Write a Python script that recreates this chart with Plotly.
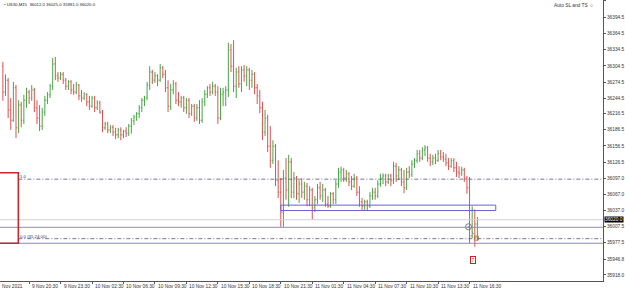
import plotly.graph_objects as go

# ---------------- data (US30, M15) ----------------
opens = [36304,36256,36278,36223,36204,36264,36190,36232,36204,36241,
         36256,36245,36260,36227,36208,36193,36219,36241,36251,36267,
         36308,36286,36282,36289,36278,36267,36275,36260,36256,36269,
         36249,36245,36252,36238,36230,36245,36227,36236,36219,36190,
         36197,36186,36191,36182,36177,36186,36177,36184,36180,36193,
         36203,36210,36216,36227,36241,36245,36269,36293,36278,36286,
         36278,36301,36289,36264,36230,36260,36271,36241,36238,36245,
         36227,36241,36216,36230,36208,36227,36204,36238,36252,36264,
         36256,36267,36256,36208,36252,36256,36260,36334,36304,36267,
         36293,36271,36297,36286,36297,36278,36289,36264,36249,36227,
         36182,36208,36156,36130,36156,36093,36071,36034,36097,36075,
         36127,36071,36097,36068,36086,36071,36082,36057,36075,36042,
         36057,36079,36064,36075,36049,36045,36068,36057,36086,36108,
         36112,36097,36105,36090,36082,36097,36071,36053,36045,36053,
         36045,36064,36071,36064,36086,36097,36101,36090,36101,36093,
         36119,36101,36112,36090,36079,36108,36103,36123,36130,36142,
         36134,36149,36153,36134,36127,36134,36130,36143,36136,36132,
         36125,36119,36129,36116,36108,36105,36112,36097,36079,35990,
         36038,36012]
highs = [36312,36289,36282,36245,36275,36269,36241,36238,36251,36264,
         36260,36269,36264,36241,36232,36227,36249,36256,36271,36319,
         36321,36293,36293,36293,36282,36278,36278,36271,36275,36271,
         36260,36256,36254,36249,36249,36249,36241,36240,36223,36201,
         36201,36195,36195,36190,36190,36191,36186,36191,36197,36208,
         36214,36219,36232,36245,36249,36275,36304,36297,36293,36289,
         36308,36304,36297,36278,36271,36278,36275,36256,36249,36249,
         36245,36245,36234,36234,36234,36241,36245,36260,36267,36271,
         36275,36271,36267,36264,36264,36267,36347,36345,36352,36301,
         36304,36304,36306,36304,36301,36297,36293,36271,36260,36238,
         36223,36214,36193,36167,36160,36130,36097,36112,36134,36140,
         36134,36108,36101,36093,36097,36090,36088,36082,36079,36064,
         36086,36090,36086,36079,36064,36071,36071,36093,36116,36118,
         36116,36112,36108,36101,36105,36101,36082,36060,36057,36057,
         36071,36079,36079,36093,36105,36106,36105,36105,36105,36127,
         36125,36119,36116,36112,36116,36119,36130,36134,36149,36149,
         36154,36158,36156,36142,36140,36142,36149,36149,36145,36142,
         36134,36134,36134,36127,36119,36118,36116,36101,36099,36045,
         36038,36025]
lows = [36240,36249,36208,36186,36201,36171,36180,36191,36197,36227,
        36234,36240,36219,36197,36184,36186,36212,36234,36245,36260,
        36278,36275,36278,36271,36260,36260,36252,36251,36252,36241,
        36238,36241,36230,36223,36227,36219,36223,36216,36182,36186,
        36180,36180,36175,36169,36171,36167,36171,36173,36175,36179,
        36195,36203,36208,36219,36230,36241,36260,36271,36273,36267,
        36275,36282,36256,36219,36223,36252,36234,36230,36227,36219,
        36216,36208,36212,36201,36203,36197,36199,36230,36245,36249,
        36252,36249,36197,36204,36230,36230,36247,36293,36256,36245,
        36264,36256,36275,36267,36260,36264,36252,36234,36217,36167,
        36175,36145,36116,36123,36082,36060,36007,36007,36057,36044,
        36060,36060,36057,36051,36060,36057,36045,36045,36020,36034,
        36049,36057,36053,36044,36042,36042,36049,36049,36079,36090,
        36090,36090,36082,36075,36079,36064,36044,36038,36038,36038,
        36042,36057,36057,36060,36081,36086,36082,36086,36082,36086,
        36090,36093,36082,36069,36075,36097,36099,36116,36125,36127,
        36130,36138,36127,36119,36121,36123,36127,36130,36127,36119,
        36112,36116,36108,36099,36097,36101,36090,36068,35977,35986,
        35970,35981]
closes = [36256,36278,36223,36204,36264,36190,36232,36204,36241,36256,
          36245,36260,36227,36208,36193,36219,36241,36251,36267,36308,
          36286,36282,36289,36278,36267,36275,36260,36256,36269,36249,
          36245,36252,36238,36230,36245,36227,36236,36219,36190,36197,
          36186,36191,36182,36177,36186,36177,36184,36180,36193,36203,
          36210,36216,36227,36241,36245,36269,36293,36278,36286,36278,
          36301,36289,36264,36230,36260,36271,36241,36238,36245,36227,
          36241,36216,36230,36208,36227,36204,36238,36252,36264,36256,
          36267,36256,36208,36252,36256,36260,36334,36304,36267,36293,
          36271,36297,36286,36297,36278,36289,36264,36249,36227,36182,
          36208,36156,36130,36156,36093,36071,36034,36097,36075,36127,
          36071,36097,36068,36086,36071,36082,36057,36075,36042,36057,
          36079,36064,36075,36049,36045,36068,36057,36086,36108,36112,
          36097,36105,36090,36082,36097,36071,36053,36045,36053,36045,
          36064,36071,36064,36086,36097,36101,36090,36101,36093,36119,
          36101,36112,36090,36079,36108,36103,36123,36130,36142,36134,
          36149,36153,36134,36127,36134,36130,36143,36136,36132,36125,
          36119,36129,36116,36108,36105,36112,36097,36079,35990,36038,
          36012,36020]
bars = list(range(len(closes)))

x_label_bars = [10, 22, 34, 46, 58, 70, 82, 94, 106, 118, 130, 142, 154, 166, 178]
x_labels = ["9 Nov 20:30", "9 Nov 23:30", "10 Nov 02:30", "10 Nov 06:30",
            "10 Nov 09:30", "10 Nov 12:30", "10 Nov 15:30", "10 Nov 18:30", "10 Nov 21:30",
            "11 Nov 01:30", "11 Nov 04:30", "11 Nov 07:30", "11 Nov 10:30", "11 Nov 13:30",
            "11 Nov 16:30"]
first_label = "Nov 2021"

y_ticks = [36424.5, 36394.5, 36364.5, 36334.5, 36304.5, 36274.5, 36244.5, 36216.5,
           36186.5, 36156.5, 36126.5, 36097.0, 36067.0, 36037.0, 36007.5, 35977.5,
           35946.8, 35918.0]

last_price = 36020.0
fib_top = 36095.0
fib_bottom = 35985.0
level_a = 36006.0
level_b = 35976.5
zone_top, zone_bottom = 36047.0, 36037.0
zone_start, zone_end = 106.0, 188.0
redbox_top, redbox_bottom = 36107.0, 35976.5
fib_start = 5.9
trade_in = (177.6, 36007.0)
trade_out = (180.6, 35986.0)
marker7 = (179.3, 35946.0)

X_RANGE = [-1.1, 228.9]
Y_RANGE = [35906.7, 36426.3]

GREEN = "#45a845"
RED = "#e05050"
FONT = "Liberation Sans"
FS = 4.8

fig = go.Figure()
fig.add_trace(go.Ohlc(
    x=bars, open=opens, high=highs, low=lows, close=closes,
    increasing=dict(line=dict(color=GREEN, width=1)),
    decreasing=dict(line=dict(color=RED, width=1)),
    tickwidth=0.35, showlegend=False, hoverinfo="skip"))

shapes = []
shapes.append(dict(type="line", xref="paper", x0=0, x1=1, yref="y", y0=last_price, y1=last_price,
                   line=dict(color="#d2d2d2", width=1)))
for lv in (level_a, level_b):
    shapes.append(dict(type="line", xref="paper", x0=0, x1=1, yref="y", y0=lv, y1=lv,
                       line=dict(color="#8c86d6", width=1)))
for lv in (fib_top, fib_bottom):
    shapes.append(dict(type="line", xref="x", x0=fib_start, x1=X_RANGE[1], yref="y", y0=lv, y1=lv,
                       line=dict(color="#50508a", width=0.8, dash="4px,2px,1px,2px")))
shapes.append(dict(type="rect", xref="x", x0=zone_start, x1=zone_end, yref="y",
                   y0=zone_bottom, y1=zone_top, line=dict(color="#6a62cc", width=1)))
shapes.append(dict(type="rect", xref="x", x0=-8, x1=fib_start, yref="y",
                   y0=redbox_bottom, y1=redbox_top, line=dict(color="#c8262a", width=1.6)))
shapes.append(dict(type="line", xref="x", yref="y", x0=trade_in[0], y0=trade_in[1],
                   x1=trade_out[0], y1=trade_out[1], line=dict(color="#888888", width=1, dash="dot")))
fig.update_layout(shapes=shapes)

fig.add_trace(go.Scatter(x=[trade_in[0]], y=[trade_in[1]], mode="markers",
                         marker=dict(symbol="circle-dot", size=6, color="rgba(0,0,0,0)",
                                     line=dict(color="#777777", width=1)),
                         showlegend=False, hoverinfo="skip"))
fig.add_trace(go.Scatter(x=[trade_out[0]], y=[trade_out[1]], mode="markers",
                         marker=dict(symbol="square-open", size=4, color="#c08040"),
                         showlegend=False, hoverinfo="skip"))

ann = []
ann.append(dict(x=0, xref="paper", y=0, yref="paper", yanchor="top", xanchor="left",
                text=first_label, showarrow=False, yshift=-1, xshift=0,
                font=dict(family=FONT, size=FS, color="#333333")))
for b, t in zip(x_label_bars, x_labels):
    ann.append(dict(x=b, xref="x", y=0, yref="paper", yanchor="top", xanchor="left",
                    text=t, showarrow=False, yshift=-1, xshift=1,
                    font=dict(family=FONT, size=FS, color="#333333")))
ann.append(dict(x=0.003, xref="paper", y=1, yref="paper", xanchor="left", yanchor="top",
                text="\u2022 US30,M15  36012.0 36025.0 35981.0 36020.0", showarrow=False,
                yshift=0, font=dict(family=FONT, size=4.3, color="#222222")))
ann.append(dict(x=0.988, xref="paper", y=1, yref="paper", xanchor="right", yanchor="top",
                text="Auto SL and TS \u263a", showarrow=False, yshift=-1,
                font=dict(family=FONT, size=FS, color="#333333")))
ann.append(dict(x=1, xref="paper", y=last_price, yref="y", xanchor="left", yanchor="middle",
                text="36020.0", showarrow=False, bgcolor="#000000", borderpad=0, xshift=1,
                font=dict(family=FONT, size=FS, color="#ffffff")))
ann.append(dict(x=fib_start, xref="x", y=fib_top, yref="y", xanchor="left", yanchor="bottom",
                text="1.0", showarrow=False, xshift=0, yshift=-2,
                font=dict(family=FONT, size=4.3, color="#333366")))
ann.append(dict(x=fib_start, xref="x", y=fib_bottom, yref="y", xanchor="left", yanchor="bottom",
                text="0.0 (35.24.00)", showarrow=False, yshift=-2,
                font=dict(family=FONT, size=4.3, color="#333366")))
ann.append(dict(x=marker7[0], xref="x", y=marker7[1], yref="y", text="7", showarrow=False,
                bordercolor="#d02020", borderwidth=1, borderpad=0.5,
                font=dict(family=FONT, size=FS, color="#d02020")))
fig.update_layout(annotations=ann)

fig.update_layout(
    width=625, height=289,
    margin=dict(l=0, r=20, t=0, b=8),
    paper_bgcolor="white", plot_bgcolor="white",
    xaxis=dict(range=X_RANGE, showgrid=False, zeroline=False, rangeslider=dict(visible=False),
               showline=True, linecolor="#555555", linewidth=1, ticks="outside", ticklen=2,
               tickcolor="#555555", tickvals=x_label_bars, showticklabels=False, fixedrange=True),
    yaxis=dict(range=Y_RANGE, side="right", showgrid=False, zeroline=False, showline=True,
               linecolor="#555555", linewidth=1, ticks="outside", ticklen=2, tickcolor="#555555",
               tickvals=y_ticks, ticktext=[f"{v:.1f}" for v in y_ticks],
               tickfont=dict(family=FONT, size=FS, color="#333333"), fixedrange=True),
    showlegend=False,
)

fig.write_html("out.html")
